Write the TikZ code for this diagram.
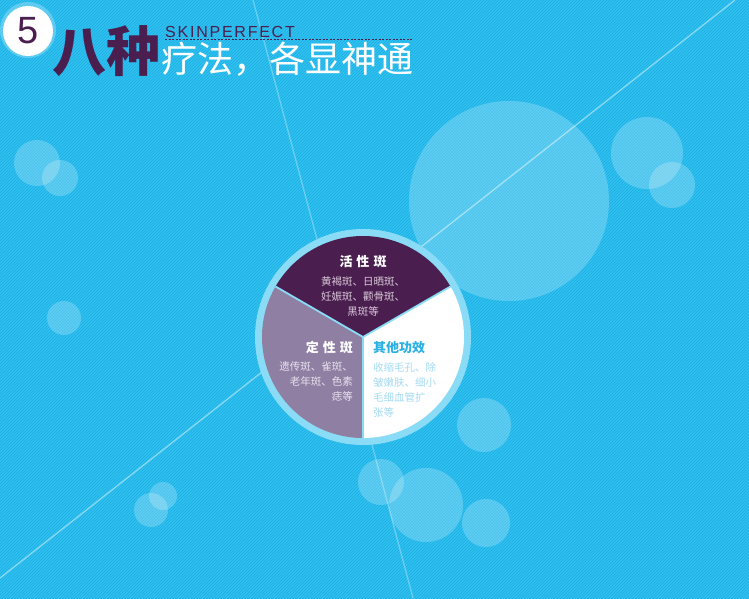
\documentclass[tikz,border=0pt]{standalone}
\usepackage{fontspec}
\setmainfont{Liberation Sans}
\newfontfamily\cjk{Noto Sans CJK SC}
\newfontfamily\spaced{Liberation Sans}[LetterSpace=11]
\usetikzlibrary{patterns, positioning}
\definecolor{bgblue}{HTML}{31C1F1}
\definecolor{stripeblue}{HTML}{1CADE2}
\definecolor{ringblue}{HTML}{8ADCF6}
\definecolor{spotdark}{HTML}{4A1F4F}
\definecolor{spotlight}{HTML}{8F7FA3}
\definecolor{titleblue}{HTML}{2AB0E2}
\definecolor{txtdark}{HTML}{D8C6D8}
\definecolor{txtlight}{HTML}{E8E2EE}
\definecolor{txtblue}{HTML}{A4DBF2}
\tikzset{
  % bolla trasparente
  bolla/.style={fill=white, fill opacity=0.22},
  % raggio di luce
  luce/.style={draw=white, draw opacity=0.45, line width=1.3pt},
  % divisione tra le fette
  raggio/.style={draw=ringblue, line width=1.8pt},
  % testi del grafico
  titolo/.style={font=\cjk\bfseries\fontsize{13}{13}\selectfont},
  corpo/.style={font=\cjk\fontsize{10.5}{15}\selectfont},
}
\begin{document}
\begin{tikzpicture}[x=1pt, y=-1pt, every node/.style={inner sep=0pt}]
  \useasboundingbox (0,0) rectangle (749,598);
  % sfondo a righe
  \fill[bgblue] (-6,-6) rectangle (755,604);
  \fill[pattern=north east lines, pattern color=stripeblue] (-6,-6) rectangle (755,604);
  % bolle
  \foreach \cx/\cy/\r in {509/201/100, 647/153/36, 672/185/23, 37/163/23, 60/178/18,
      64/318/17, 484/425/27, 381/482/23, 426/505/37, 486/523/24, 151/510/17, 163/496/14}
    \fill[bolla] (\cx,\cy) circle[radius=\r];
  % raggi di luce
  \coordinate (l1a) at (0,578);
  \coordinate (l1b) at (735,0);
  \coordinate (l2a) at (253,0);
  \coordinate (l2b) at (413,598);
  \draw[luce] (l1a) -- (l1b);
  \draw[luce, draw opacity=0.3] (l2a) -- (l2b);
  % grafico a torta
  \coordinate (c) at (363,337);
  \fill[ringblue] (c) circle[radius=108];
  \fill[spotdark] (c) -- ++(-30:101) arc[start angle=-30, end angle=-150, radius=101] -- cycle;
  \fill[spotlight] (c) -- ++(-150:101) arc[start angle=-150, end angle=-270, radius=101] -- cycle;
  \fill[white] (c) -- ++(90:101) arc[start angle=90, end angle=-30, radius=101] -- cycle;
  \foreach \a in {-30, -150, 90}
    \draw[raggio] (c) -- ++(\a:101);
  % testi delle fette
  \node[titolo, text=white] (t1) at (363,262) {活\hspace{4pt}性\hspace{4pt}斑};
  \node[corpo, text=txtdark, align=center] (b1) at (363,297) {黄褐斑、日晒斑、\\妊娠斑、颧骨斑、\\黑斑等};
  \node[titolo, text=white, anchor=east] (t2) at (353,347) {定\hspace{4pt}性\hspace{4pt}斑};
  \node[corpo, text=txtlight, align=right, anchor=east] (b2) at (353,382) {遗传斑、雀斑、\\老年斑、色素\\痣等};
  \node[titolo, text=titleblue, anchor=west] (t3) at (373,348) {其他功效};
  \node[corpo, text=txtblue, align=left, anchor=west] (b3) at (373,389.5) {收缩毛孔、除\\皱嫩肤、细小\\毛细血管扩\\张等};
  % intestazione
  \fill[white, opacity=0.25] (28,30) circle[radius=28];
  \node[circle, fill=white, minimum size=50pt, font=\fontsize{38}{38}\selectfont, text=spotdark] (num) at (28,31) {5};
  \node[font=\cjk\bfseries\fontsize{54}{54}\selectfont, text=spotdark, anchor=base west] (bazhong) at (52,71) {八种};
  \node[font=\cjk\fontsize{36}{36}\selectfont, text=white, anchor=base west] (motto) at (161,72) {疗法，各显神通};
  \node[font=\spaced\fontsize{16}{16}\selectfont, text=spotdark, anchor=base west] (brand) at (165,37) {SKINPERFECT};
  \coordinate (d1) at (165,39.5);
  \coordinate (d2) at (412,39.5);
  \draw[spotdark, dashed, dash pattern=on 2pt off 1.5pt, line width=0.7pt] (d1) -- (d2);
\end{tikzpicture}
\end{document}
